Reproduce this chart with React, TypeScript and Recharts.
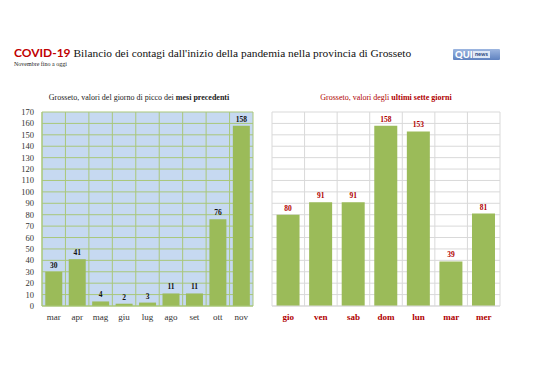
import React from "react";
import { BarChart, Bar, XAxis, YAxis, CartesianGrid, LabelList } from "recharts";

const months = ["mar", "apr", "mag", "giu", "lug", "ago", "set", "ott", "nov"];
const monthPeaks = [30, 41, 4, 2, 3, 11, 11, 76, 158];

const days = ["gio", "ven", "sab", "dom", "lun", "mar", "mer"];
const dayValues = [80, 91, 91, 158, 153, 39, 81];

const yTicks = [0, 10, 20, 30, 40, 50, 60, 70, 80, 90, 100, 110, 120, 130, 140, 150, 160, 170];

const monthData = months.map((m, i) => ({ name: m, value: monthPeaks[i] }));
const dayData = days.map((d, i) => ({ name: d, value: dayValues[i] }));

const SERIF = "'Liberation Serif', 'DejaVu Serif', serif";
const RED = "#b00000";
const BAR = "#9bbb59";

// grid lines between categories, not through their centres
const boundaries = (n: number) => ({ offset }: any) => {
  const out: number[] = [];
  for (let i = 0; i <= n; i++) out.push(offset.left + (offset.width * i) / n);
  return out;
};

export default function App() {
  return (
    <div style={{ position: "absolute", left: 0, top: 0, width: 538, height: 380, background: "#fff", fontFamily: SERIF }}>
      <div style={{ position: "absolute", left: 14, top: 45, fontSize: 11.4, whiteSpace: "nowrap", color: "#111", fontFamily: SERIF }}>
        <span style={{ fontFamily: "Lato, 'Open Sans', sans-serif", fontWeight: 700, color: "#c00000", fontSize: 12 }}>COVID-19</span>{" "}
        Bilancio dei contagi dall'inizio della pandemia nella provincia di Grosseto
      </div>
      <div style={{ position: "absolute", left: 14, top: 61, fontSize: 6, color: "#222", fontFamily: SERIF }}>Novembre fino a oggi</div>
      <div
        style={{
          position: "absolute", left: 453, top: 49, width: 47, height: 11,
          background: "linear-gradient(#9db6e0, #5f82c0)", borderRadius: 1,
          fontFamily: "Lato, sans-serif", whiteSpace: "nowrap",
        }}
      >
        <span style={{ position: "absolute", left: 2, top: 0, fontSize: 9.5, lineHeight: "11px", fontWeight: 900, color: "#fff" }}>QUI</span>
        <span style={{ position: "absolute", left: 20, top: 2, fontSize: 5.5, lineHeight: "7px", fontWeight: 700, color: "#1d3f7a", background: "#dfe8f6", padding: "0 2px" }}>news</span>
      </div>

      <div style={{ position: "absolute", left: 0, top: 93, width: 278, textAlign: "center", fontSize: 8, color: "#222" }}>
        Grosseto, valori del giorno di picco dei <b>mesi precedenti</b>
      </div>
      <div style={{ position: "absolute", left: 272, top: 93, width: 228, textAlign: "center", fontSize: 8, color: RED }}>
        Grosseto, valori degli <b>ultimi sette giorni</b>
      </div>

      <div style={{ position: "absolute", left: 0, top: 0 }}>
        <BarChart width={270} height={340} data={monthData} margin={{ top: 112, right: 17, bottom: 14, left: 0 }} barCategoryGap="14%">
          <CartesianGrid
            fill="#c6d9f1"
            stroke="#a9c77a"
            strokeWidth={1}
            verticalCoordinatesGenerator={boundaries(months.length)}
          />
          <XAxis
            dataKey="name"
            height={20}
            tickLine={false}
            axisLine={{ stroke: "#a9c77a" }}
            tick={{ fontSize: 9, fill: "#333", fontFamily: SERIF }}
            interval={0}
          />
          <YAxis
            width={42}
            domain={[0, 170]}
            ticks={yTicks}
            interval={0}
            tickLine={false}
            axisLine={{ stroke: "#a9c77a" }}
            tick={{ fontSize: 8.5, fill: "#333", fontFamily: SERIF }}
          />
          <Bar dataKey="value" fill={BAR} isAnimationActive={false}>
            <LabelList dataKey="value" position="top" offset={4} style={{ fontSize: 7.5, fontWeight: 700, fill: "#111", fontFamily: SERIF }} />
          </Bar>
        </BarChart>
      </div>

      <div style={{ position: "absolute", left: 0, top: 0 }}>
        <BarChart width={538} height={340} data={dayData} margin={{ top: 112, right: 38, bottom: 14, left: 272 }} barCategoryGap="14%">
          <CartesianGrid stroke="#d9d9d9" strokeWidth={1} verticalCoordinatesGenerator={boundaries(days.length)} />
          <XAxis
            dataKey="name"
            height={20}
            tickLine={false}
            axisLine={{ stroke: "#d9d9d9" }}
            tick={{ fontSize: 9, fill: RED, fontWeight: 700, fontFamily: SERIF }}
            interval={0}
          />
          <YAxis hide width={0} domain={[0, 170]} ticks={yTicks} interval={0} />
          <Bar dataKey="value" fill={BAR} isAnimationActive={false}>
            <LabelList dataKey="value" position="top" offset={4} style={{ fontSize: 7.5, fontWeight: 700, fill: RED, fontFamily: SERIF }} />
          </Bar>
        </BarChart>
      </div>
    </div>
  );
}
